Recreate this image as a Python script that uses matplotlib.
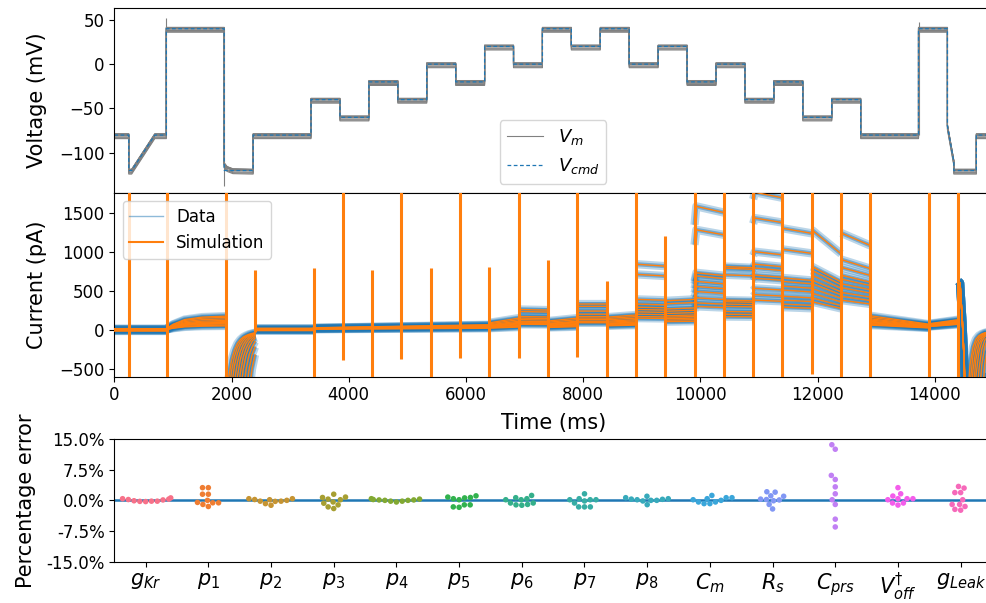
"""
Staircase protocol fit: voltage, current (data vs simulation) and
per-parameter percentage errors across cells.
"""

import numpy as np
import pandas as pd
import matplotlib
matplotlib.use("Agg")
import matplotlib.pyplot as plt
from matplotlib.lines import Line2D
from matplotlib.ticker import FuncFormatter
import seaborn as sns

# ── voltage protocol (ms, mV): start, end, level at start, level at end ──
STEP_T0 = [0, 250, 300, 700, 900, 1900, 2400, 3400, 3900, 4400, 4900, 5400,
           5900, 6400, 6900, 7400, 7900, 8400, 8900, 9400, 9900, 10400, 10900,
           11400, 11900, 12400, 12900, 13900, 14400, 14510, 14900]
STEP_T1 = STEP_T0[1:] + [15400]
STEP_V0 = [-80, -120, -120, -80, 40, -120, -80, -40, -60, -20, -40, 0,
           -20, 20, 0, 40, 20, 40, 0, 20, -20, 0, -40,
           -20, -60, -40, -80, 40, -70, -120, -80]
STEP_V1 = [-80, -120, -80, -80, 40, -120, -80, -40, -60, -20, -40, 0,
           -20, 20, 0, 40, 20, 40, 0, 20, -20, 0, -40,
           -20, -60, -40, -80, 40, -110, -120, -80]

# membrane voltage: slow settling after the big hyperpolarising step
VM_SETTLE_T = [1900, 1950, 2050, 2400]
VM_SETTLE_V = [-113, -117, -119.5, -120]
VM_OFFSET = [1.5, 1.2, 1.0, 0.7, 0.4, 0.0, -0.5, -2.0, -3.0, -4.0]
VM_SPIKE_T = [900, 1900, 13900]
VM_SPIKE_FROM = [-80, 40, -80]
VM_SPIKE_TO = [52, -137, 48]

# ── current (pA), 10 cells: level per segment, shape within the segment ──
SEG_T0 = [0, 900, 2400, 3400, 6400, 6900, 7400, 7900, 8400, 8900, 9400,
          9900, 10400, 10900, 11400, 11900, 12400, 12900, 13900]
SEG_T1 = [900, 1900, 3400, 6400, 6900, 7400, 7900, 8400, 8900, 9400, 9900,
          10400, 10900, 11400, 11900, 12400, 12900, 13900, 14400]
SEG_LEVELS = [
    [15, 10, 8, 5, 0, 0, -5, -8, -10, -15],
    [175, 160, 140, 120, 105, 95, 85, 75, 60, 50],
    [20, 15, 10, 5, 5, 0, 0, -5, -5, -10],
    [65, 60, 55, 50, 45, 40, 35, 30, 25, 20],
    [150, 130, 110, 95, 85, 75, 65, 55, 45, 35],
    [260, 235, 170, 150, 130, 110, 100, 90, 80, 70],
    [150, 130, 110, 100, 90, 80, 70, 60, 50, 40],
    [330, 300, 240, 200, 170, 150, 130, 110, 100, 90],
    [190, 170, 150, 130, 115, 100, 90, 80, 70, 60],
    [840, 710, 390, 330, 290, 260, 230, 200, 170, 150],
    [390, 350, 280, 250, 220, 190, 170, 150, 130, 110],
    [1580, 1280, 730, 690, 620, 555, 490, 410, 345, 300],
    [810, 790, 705, 380, 360, 330, 300, 235, 200, 170],
    [1760, 1430, 1000, 840, 790, 700, 660, 530, 450, 380],
    [1300, 1030, 665, 620, 560, 510, 430, 380, 330, 290],
    [1280, 810, 760, 700, 640, 590, 530, 470, 410, 360],
    [1240, 900, 800, 700, 650, 590, 540, 480, 430, 380],
    [180, 160, 140, 125, 110, 100, 90, 80, 70, 60],
    [130, 120, 110, 100, 95, 90, 85, 80, 75, 70],
]
SEG_SHAPE_X = [[0, 1], [0, 0.1, 0.3, 0.6, 1], [0, 1], [0, 1], [0, 1], [0, 1],
               [0, 1], [0, 1], [0, 1], [0, 1], [0, 1], [0, 0.06, 1], [0, 1],
               [0, 0.06, 1], [0, 1], [0, 1], [0, 1], [0, 1], [0, 1]]
SEG_SHAPE_F = [[1, 1], [0.1, 0.4, 0.75, 0.93, 1.0], [1, 1], [0.4, 1], [0.6, 1],
               [1, 0.97], [0.75, 1], [1, 1], [0.85, 1], [1, 0.97], [0.95, 1],
               [0.85, 1, 0.95], [1, 0.98], [0.95, 1, 0.96], [1, 0.95],
               [1, 0.76], [1, 0.87], [1, 0.4], [0.6, 1]]

# tail currents at -120 mV
TAIL1_T = [1900, 1925, 1950, 2000, 2050, 2100, 2150, 2200, 2250, 2300, 2350, 2400]
TAIL1_I = [
    [-5500, -5100, -4700, -3900, -3250, -2700, -2200, -1740, -1330, -800, -500, -320],
    [-4700, -4300, -3900, -3250, -2700, -2200, -1740, -1330, -800, -500, -320, -220],
    [-3900, -3550, -3250, -2700, -2200, -1740, -1330, -800, -500, -320, -220, -150],
    [-3250, -2950, -2700, -2200, -1740, -1330, -800, -500, -320, -220, -150, -108],
    [-2800, -2550, -2300, -1820, -1400, -880, -550, -350, -235, -160, -115, -87],
    [-2400, -2150, -1900, -1500, -950, -600, -380, -250, -170, -120, -90, -70],
    [-2000, -1780, -1580, -1060, -660, -420, -275, -185, -130, -95, -73, -58],
    [-1660, -1450, -1180, -730, -460, -300, -200, -140, -100, -77, -60, -48],
    [-1330, -1060, -840, -530, -340, -225, -155, -110, -85, -66, -52, -43],
    [-1000, -780, -620, -390, -260, -175, -125, -92, -72, -56, -46, -38],
]
TAIL2_T = [14400, 14430, 14470, 14500, 14550, 14600, 14650, 14700, 14750,
           14800, 14850, 14900, 14950, 15000]
TAIL2_I = [
    [620, 600, 100, -400, -2300, -2600, -2800, -2900, -2800, -2500, -2000, -1100, -520, -250],
    [620, 600, 100, -400, -2300, -2600, -2800, -2800, -2400, -1800, -950, -450, -220, -120],
    [620, 600, 100, -400, -2300, -2600, -2700, -2400, -1800, -950, -450, -220, -120, -75],
    [620, 600, 100, -400, -2300, -2500, -2400, -1800, -950, -450, -220, -120, -75, -52],
    [620, 600, 100, -400, -2300, -2500, -2000, -1100, -520, -250, -135, -85, -58, -44],
    [620, 600, 100, -400, -2300, -2100, -1300, -600, -290, -150, -90, -60, -45, -36],
    [620, 600, 100, -400, -2300, -1650, -820, -380, -190, -110, -70, -48, -37, -31],
    [620, 600, 100, -400, -2000, -1100, -520, -250, -135, -85, -55, -40, -33, -28],
    [620, 600, 100, -400, -1500, -700, -330, -170, -100, -65, -45, -34, -29, -26],
    [620, 600, 100, -400, -950, -450, -220, -120, -75, -52, -38, -30, -27, -25],
]

# capacitive transients at each voltage step (pA)
SPIKE_T = [250, 900, 1900, 2400, 3400, 3900, 4400, 4900, 5400, 5900, 6400,
           6900, 7400, 7900, 8400, 8900, 9400, 9900, 10400, 10900, 11400,
           11900, 12400, 12900, 13900, 14400]
SPIKE_MAX = [2000, 2000, 2000, 770, 790, 2000, 770, 2000, 790, 2000, 810,
             2000, 900, 2000, 630, 2000, 1200, 2000, 2000, 2000, 2000,
             2000, 2000, 2000, 2000, 2000]
SPIKE_MIN = [-800, -800, -800, -30, -800, -385, -800, -370, -800, -360, -800,
             -360, -800, -350, -800, -800, -800, -800, -800, -800, -800,
             -560, -800, -800, -800, -800]

# ── percentage error per parameter (one value per cell) ───────────────────
PARAM_LABELS = [r"$g_{Kr}$", r"$p_1$", r"$p_2$", r"$p_3$", r"$p_4$", r"$p_5$",
                r"$p_6$", r"$p_7$", r"$p_8$", r"$C_m$", r"$R_s$", r"$C_{prs}$",
                r"$V^{\dagger}_{off}$", r"$g_{Leak}$"]
ERR_GKR = [0.4, 0.1, -0.2, -0.25, -0.3, -0.2, -0.1, 0.2, 0.6, 0.3]
ERR_P1 = [3.1, 3.1, 1.5, 1.5, -0.5, -1.0, -1.5, -0.6, -0.6, 0.0]
ERR_P2 = [0.4, 0.2, -0.2, -0.8, 0.4, -1.2, -0.25, -0.2, 0.0, 0.15]
ERR_P3 = [0.7, 0.15, 1.5, -0.4, 0.3, 0.8, -1.6, -2.0, -1.1, -0.7]
ERR_P4 = [0.4, 0.1, 0.0, -0.2, -0.4, -0.2, 0.0, 0.2, 0.3, 0.1]
ERR_P5 = [0.8, 0.4, 0.15, 0.6, 0.7, 1.1, -1.1, -1.6, -1.7, -1.1]
ERR_P6 = [0.15, -0.65, 1.2, -1.2, 0.4, 0.65, -1.1, -1.0, -0.65, 0.15]
ERR_P7 = [0.4, 1.6, -0.65, -1.6, -1.6, -1.6, -0.15, 0.15, 0.15, 0.15]
ERR_P8 = [1.0, 0.25, 0.15, 0.0, 0.65, -1.05, -0.15, 0.0, 0.3, 0.4]
ERR_CM = [0.65, 0.4, -0.4, -0.8, 0.65, -0.8, 1.2, -0.4, 0.0, 0.15]
ERR_RS = [0.2, 0.1, -0.1, 0.3, 1.0, 1.1, 2.0, 2.1, -1.0, -2.1]
ERR_CPRS = [13.6, 12.5, 6.1, 5.1, 3.3, 1.6, 0.15, -1.0, -4.6, -6.5]
ERR_VOFF = [0.4, 0.4, 1.05, 3.1, 1.6, 0.4, 0.15, -0.65, -1.15, -0.65]
ERR_GLEAK = [3.4, 3.0, 1.9, 1.9, 0.15, -1.0, -1.0, -1.5, -2.2, -2.4]
ERRORS = [ERR_GKR, ERR_P1, ERR_P2, ERR_P3, ERR_P4, ERR_P5, ERR_P6, ERR_P7,
          ERR_P8, ERR_CM, ERR_RS, ERR_CPRS, ERR_VOFF, ERR_GLEAK]

N_CELLS = len(VM_OFFSET)


def protocol_knots(settle=False):
    ts, vs = [], []
    for t0, t1, v0, v1 in zip(STEP_T0, STEP_T1, STEP_V0, STEP_V1):
        if settle and t0 == VM_SETTLE_T[0]:
            ts += VM_SETTLE_T; vs += VM_SETTLE_V
        else:
            ts += [t0, t1]; vs += [v0, v1]
    return np.array(ts, float), np.array(vs, float)


def current_trace(c):
    pieces = []
    for k in range(len(SEG_T0)):
        t0, t1 = SEG_T0[k], SEG_T1[k]
        t = t0 + np.array(SEG_SHAPE_X[k]) * (t1 - t0)
        pieces.append((t0, t, SEG_LEVELS[k][c] * np.array(SEG_SHAPE_F[k])))
    pieces.append((TAIL1_T[0], np.array(TAIL1_T), np.array(TAIL1_I[c], float)))
    pieces.append((TAIL2_T[0], np.array(TAIL2_T), np.array(TAIL2_I[c], float)))
    pieces.sort(key=lambda p: p[0])
    ts, vs = [], []
    for _, t, v in pieces:
        ts += list(t) + [np.nan]
        vs += list(v) + [np.nan]
    return np.array(ts), np.array(vs)


plt.rcParams["xtick.labelsize"] = 12
plt.rcParams["ytick.labelsize"] = 12
plt.rcParams["axes.labelsize"] = 15

fig = plt.figure(figsize=(9.87, 6.03), dpi=100)
left, width = 114.3 / 987, (992 - 114.3) / 987
ax1 = fig.add_axes([left, 1 - 192.7 / 603, width, 184.4 / 603])
ax2 = fig.add_axes([left, 1 - 376.7 / 603, width, 184.0 / 603])
ax3 = fig.add_axes([left, 1 - 561.7 / 603, width, 122.7 / 603])

# ── voltage ───────────────────────────────────────────────────────────────
vt, vc = protocol_knots()
mt, mv = protocol_knots(settle=True)
for c in range(N_CELLS):
    ax1.plot(mt, mv + VM_OFFSET[c], color="gray", lw=0.8,
             label=r"$V_m$" if c == 0 else None)
ax1.vlines(VM_SPIKE_T, VM_SPIKE_FROM, VM_SPIKE_TO, color="gray", lw=0.8)
ax1.plot(vt, vc, color="C0", lw=0.9, ls=(0, (3, 2)), label=r"$V_{cmd}$")
ax1.set_xlim(0, 15170)
ax1.set_ylim(-145, 63)
ax1.set_xticks([])
ax1.set_yticks([-100, -50, 0, 50])
ax1.set_ylabel("Voltage (mV)", labelpad=9)
ax1.legend(loc="lower center", fontsize=13)

# ── current ───────────────────────────────────────────────────────────────
traces = [current_trace(c) for c in range(N_CELLS)]
for t, i in traces:
    ax2.plot(t, i, color="C0", lw=6, alpha=0.3, solid_capstyle="butt", zorder=2)
    ax2.plot(t, i, color="C0", lw=3, alpha=0.45, solid_capstyle="butt", zorder=2)
for t, i in traces:
    ax2.plot(t, i, color="C1", lw=1.0, zorder=3)
ax2.vlines(SPIKE_T, SPIKE_MIN, SPIKE_MAX, color="C1", lw=2.2, zorder=4)
ax2.set_xlim(0, 14975)
ax2.set_ylim(-600, 1755)
ax2.set_yticks([-500, 0, 500, 1000, 1500])
ax2.set_xticks(range(0, 14001, 2000))
ax2.set_xlabel("Time (ms)", labelpad=6)
ax2.set_ylabel("Current (pA)", labelpad=9)
handles = [Line2D([], [], color="C0", alpha=0.5, lw=1),
           Line2D([], [], color="C1", lw=1.5)]
ax2.legend(handles, ["Data", "Simulation"], loc="upper left", fontsize=12)

# ── percentage errors ─────────────────────────────────────────────────────
keys = [f"k{j}" for j in range(len(PARAM_LABELS))]
df = pd.DataFrame({
    "param": np.repeat(keys, [len(e) for e in ERRORS]),
    "err": np.concatenate(ERRORS),
})
ax3.axhline(0, color="C0", lw=1.8, zorder=1)
sns.swarmplot(data=df, x="param", y="err", hue="param", order=keys,
              hue_order=keys, palette="husl", size=4, legend=False, ax=ax3,
              zorder=3)
ax3.set_xlim(-0.5, len(keys) - 0.5)
ax3.set_ylim(-15, 15)
ax3.set_yticks([-15, -7.5, 0, 7.5, 15])
ax3.yaxis.set_major_formatter(FuncFormatter(lambda v, _: f"{v:.1f}%"))
ax3.set_xticks(range(len(keys)))
ax3.set_xticklabels(PARAM_LABELS, fontsize=15)
ax3.set_xlabel("")
ax3.set_ylabel("Percentage error", labelpad=7)

fig.savefig("out.png", dpi=100)
